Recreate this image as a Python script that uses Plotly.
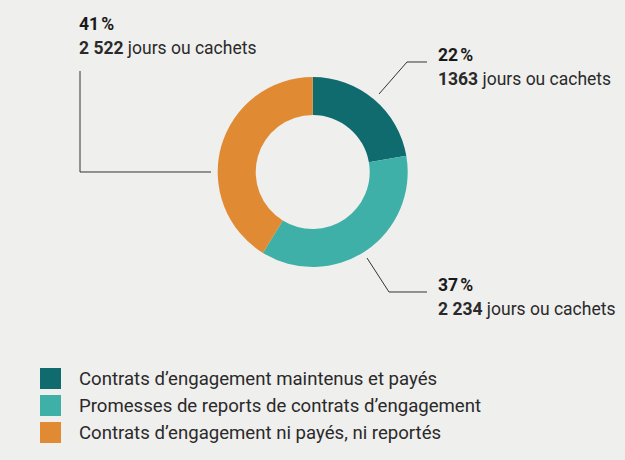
import plotly.graph_objects as go

W, H = 625, 460

# ---- data ----
categories = [
    "Contrats d\u2019engagement maintenus et payés",
    "Promesses de reports de contrats d\u2019engagement",
    "Contrats d\u2019engagement ni payés, ni reportés",
]
jours = [1363, 2234, 2522]
pct_labels = ["22\u202f%", "37\u202f%", "41\u202f%"]
jours_labels = ["1363", "2\u00a0234", "2\u00a0522"]
colors = ["#0f6b6e", "#3fb0a8", "#e08a33"]

BG = "#efefed"
FONT = "Roboto"
TXT = "#2a2a2a"


def px(x):
    return x / W


def py(y):
    return 1 - y / H


fig = go.Figure()

# donut geometry (pixels)
cx, cy, R = 312.7, 172, 95
fig.add_trace(go.Pie(
    labels=categories,
    values=jours,
    hole=0.6,
    sort=False,
    direction="clockwise",
    rotation=0,
    marker=dict(colors=colors, line=dict(width=0)),
    textinfo="none",
    hoverinfo="label+value+percent",
    showlegend=False,
    domain=dict(x=[px(cx - R), px(cx + R)], y=[py(cy + R), py(cy - R)]),
))

# leader lines (pixel paths)
leaders = [
    [(379, 94), (407, 62), (427, 62)],
    [(367, 258), (389, 292), (427, 292)],
    [(211, 172), (80, 172), (80, 71)],
]
for pts in leaders:
    path = "M " + " L ".join(f"{px(x):.5f},{py(y):.5f}" for x, y in pts)
    fig.add_shape(type="path", path=path, xref="paper", yref="paper",
                  line=dict(color="#333333", width=1))

# label positions (left x, baseline of first line)
label_pos = [(436, 63), (436, 293), (77, 32)]
FS = 17.5
for i, (lx, by) in enumerate(label_pos):
    fig.add_annotation(
        x=px(lx), y=py(by + 4), xref="paper", yref="paper",
        xanchor="left", yanchor="bottom", showarrow=False, align="left",
        text=f"<b>{pct_labels[i]}</b>",
        font=dict(family=FONT, size=FS, color="#1a1a1a"),
    )
    fig.add_annotation(
        x=px(lx), y=py(by + 24 + 4), xref="paper", yref="paper",
        xanchor="left", yanchor="bottom", showarrow=False, align="left",
        text=f"<b>{jours_labels[i]}</b> jours ou cachets",
        font=dict(family=FONT, size=FS, color=TXT),
    )

# custom legend
for i, (cat, col) in enumerate(zip(categories, colors)):
    top = 368 + 27 * i
    fig.add_shape(type="rect", xref="paper", yref="paper",
                  x0=px(40), x1=px(61), y0=py(top + 21), y1=py(top),
                  fillcolor=col, line=dict(width=0))
    fig.add_annotation(
        x=px(77), y=py(top + 10.5), xref="paper", yref="paper",
        xanchor="left", yanchor="middle", showarrow=False,
        text=cat, font=dict(family=FONT, size=18.6, color=TXT),
    )

fig.update_layout(
    width=W, height=H,
    margin=dict(l=0, r=0, t=0, b=0),
    paper_bgcolor=BG, plot_bgcolor=BG,
    showlegend=False,
)

fig.write_html(
    "out.html",
    config={"displayModeBar": False},
    post_script="document.body.style.margin='0';document.body.style.background='%s';" % BG,
)
